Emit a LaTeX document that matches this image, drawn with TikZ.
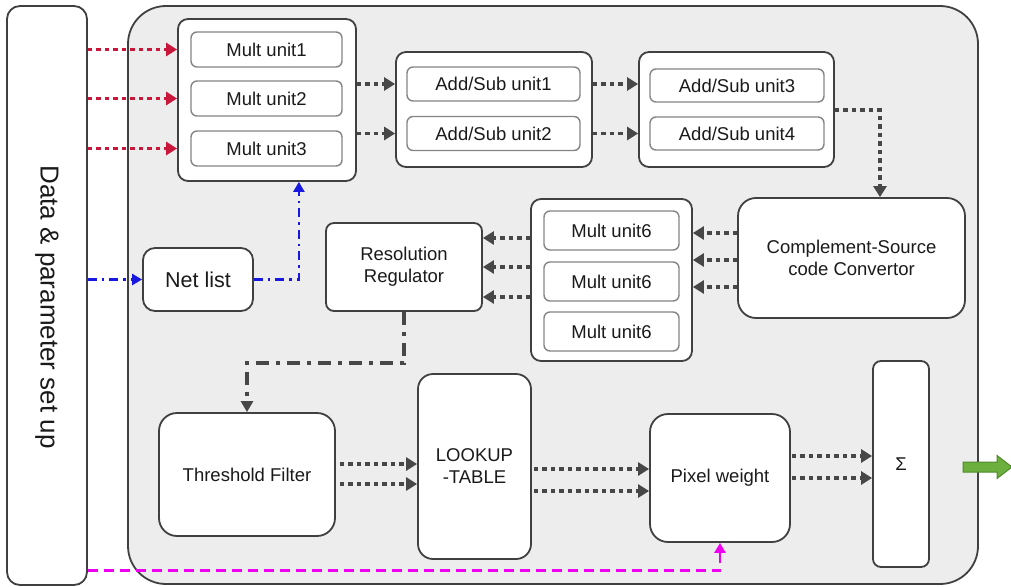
\documentclass[tikz,border=0pt]{standalone}
\usepackage{fontspec}
\setmainfont{Liberation Sans}
\usetikzlibrary{arrows.meta,calc}

\definecolor{panel}{HTML}{EDEDED}
\definecolor{edge}{HTML}{404040}
\definecolor{inneredge}{HTML}{858585}
\definecolor{flow}{HTML}{474747}
\definecolor{datared}{HTML}{C8173A}
\definecolor{netblue}{HTML}{1818E0}
\definecolor{pixmag}{HTML}{F000F0}
\definecolor{outgreen}{HTML}{6DAF3F}
\definecolor{outgreenedge}{HTML}{4F8A2A}
\definecolor{ink}{HTML}{1A1A1A}

\begin{document}
\begin{tikzpicture}[x=1pt,y=-1pt,
  font=\fontsize{18.5}{22}\selectfont,
  block/.style={draw=edge, line width=1.8pt, fill=white, rounded corners=#1,
    inner sep=0pt, align=center, text=ink},
  block/.default=10pt,
  unit/.style={draw=inneredge, line width=1.4pt, fill=white, rounded corners=6pt,
    inner sep=0pt, text=ink},
  tip/.style={-{Triangle[length=11pt,width=13pt]}},
  flowarr/.style={draw=flow, line width=3.8pt, dash pattern=on 4.5pt off 4pt, tip},
  redarr/.style={draw=datared, line width=3.8pt, dash pattern=on 4.5pt off 4pt, tip},
  bluearr/.style={draw=netblue, line width=2.4pt, dash pattern=on 9pt off 5pt on 2.5pt off 5pt,
    -{Triangle[length=10pt,width=11pt]}},
  ctrlarr/.style={draw=flow, line width=3.8pt, dash pattern=on 13pt off 7pt on 4pt off 7pt,
    -{Triangle[length=11pt,width=12pt]}},
  magarr/.style={draw=pixmag, line width=2.4pt, dash pattern=on 10pt off 6pt,
    -{Triangle[length=10pt,width=11pt]}}
]
\useasboundingbox (0,0) rectangle (1011,586);

% processing panel and the set-up column
\node[draw=edge, line width=1.8pt, fill=panel, rounded corners=38pt,
      minimum width=850pt, minimum height=578pt] (panel) at (553,295) {};
\node[draw=edge, line width=1.8pt, fill=white, rounded corners=13pt,
      minimum width=80pt, minimum height=579pt] (data) at (47,295.5) {};
\node[rotate=-90, font=\fontsize{26}{30}\selectfont, text=ink] (datalabel) at (47,307)
      {Data \& parameter set up};

% multiplier bank
\node[block=10pt, minimum width=178pt, minimum height=162pt] (mgrp) at (267,100) {};
\node[unit, minimum width=151pt, minimum height=35pt] (m1) at (266.5,49.5) {Mult unit1};
\node[unit, minimum width=151pt, minimum height=35pt] (m2) at (266.5,98.5) {Mult unit2};
\node[unit, minimum width=151pt, minimum height=35pt] (m3) at (266.5,148.5) {Mult unit3};

% adder/subtractor banks
\node[block=10pt, minimum width=196pt, minimum height=115pt] (agrpa) at (494,109.5) {};
\node[unit, minimum width=173pt, minimum height=34pt] (a1) at (493.5,84) {Add/Sub unit1};
\node[unit, minimum width=173pt, minimum height=34pt] (a2) at (493.5,133.5) {Add/Sub unit2};
\node[block=10pt, minimum width=195pt, minimum height=115pt] (agrpb) at (736.5,109.5) {};
\node[unit, minimum width=174pt, minimum height=33pt] (a3) at (737,85.5) {Add/Sub unit3};
\node[unit, minimum width=174pt, minimum height=33pt] (a4) at (737,133.5) {Add/Sub unit4};

% converter, second multiplier bank, regulator, net list
\node[block=18pt, minimum width=227pt, minimum height=120pt] (conv) at (851.5,258)
      {Complement-Source\\code Convertor};
\node[block=10pt, minimum width=161pt, minimum height=162pt] (mgrpb) at (611.5,280) {};
\node[unit, minimum width=135pt, minimum height=39pt] (m6a) at (611.5,230.5) {Mult unit6};
\node[unit, minimum width=135pt, minimum height=39pt] (m6b) at (611.5,281.5) {Mult unit6};
\node[unit, minimum width=135pt, minimum height=39pt] (m6c) at (611.5,331.5) {Mult unit6};
\node[block=8pt, minimum width=156pt, minimum height=88pt] (reg) at (404,267)
      {Resolution\\Regulator};
\node[block=12pt, minimum width=110pt, minimum height=63pt,
      font=\fontsize{21.5}{25}\selectfont] (net) at (198,279.5) {Net list};

% output stage
\node[block=18pt, minimum width=176pt, minimum height=123pt] (thr) at (247,474.5)
      {Threshold Filter};
\node[block=15pt, minimum width=113pt, minimum height=185pt] (lut) at (474.5,466.5)
      {LOOKUP\\-TABLE};
\node[block=18pt, minimum width=140pt, minimum height=128pt] (pix) at (720,478)
      {Pixel weight};
\node[block=8pt, minimum width=56pt, minimum height=206pt] (sig) at (901,464)
      {Σ};

% data inputs
\foreach \m in {m1,m2,m3}
  \draw[redarr] (data.east |- \m) -- (mgrp.west |- \m);

% multiplier bank -> adders -> adders
\foreach \a/\b in {a1/a3,a2/a4} {
  \draw[flowarr] (mgrp.east |- \a) -- (agrpa.west |- \a);
  \draw[flowarr] (agrpa.east |- \a) -- (agrpb.west |- \a);
}
\coordinate (sumout) at ($(agrpb.east)+(0,0.5)$);
\coordinate (convin) at ($(conv.north)+(28.5,0)$);
\draw[flowarr] (sumout) -| (convin);

% converter -> second multiplier bank -> regulator
\foreach \dy [count=\i] in {-25,2,29} {
  \coordinate (cv\i) at ($(conv.west)+(0,\dy)$);
  \draw[flowarr] (cv\i) -- (cv\i -| mgrpb.east);
}
\foreach \dy [count=\i] in {-42,-13,17} {
  \coordinate (mb\i) at ($(mgrpb.west)+(0,\dy)$);
  \draw[flowarr] (mb\i) -- (mb\i -| reg.east);
}

% net list configuration path
\draw[bluearr] (data.east |- net) -- (net.west);
\coordinate (netturn) at ($(net.east)+(45,0)$);
\draw[bluearr] (net.east) -- (netturn) -- (netturn |- mgrp.south);

% regulator control path
\coordinate (ctrlturn) at ($(reg.south)+(0,51)$);
\draw[ctrlarr] (reg.south) -- (ctrlturn) -| (thr.north);

% threshold -> lookup -> pixel weight -> sum
\foreach \dy [count=\i] in {-10.5,9.5} {
  \coordinate (tf\i) at ($(thr.east)+(4,\dy)$);
  \draw[flowarr] (tf\i) -- (tf\i -| lut.west);
}
\foreach \dy [count=\i] in {2.5,24.5} {
  \coordinate (lt\i) at ($(lut.east)+(2,\dy)$);
  \draw[flowarr] (lt\i) -- (lt\i -| pix.west);
}
\foreach \dy [count=\i] in {-22,0} {
  \coordinate (pw\i) at ($(pix.east)+(1,\dy)$);
  \draw[flowarr] (pw\i) -- (pw\i -| sig.west);
}

% pixel weight parameter line
\coordinate (pixin) at ($(data.east)+(0,275)$);
\draw[magarr] (pixin) -| (pix.south);

% result leaving the panel
\draw[fill=outgreen, draw=outgreenedge, line width=1pt]
  (963,462) -- (997,462) -- (997,455.5) -- (1012,467) -- (997,478.5) -- (997,472) -- (963,472) -- cycle;
\end{tikzpicture}
\end{document}
